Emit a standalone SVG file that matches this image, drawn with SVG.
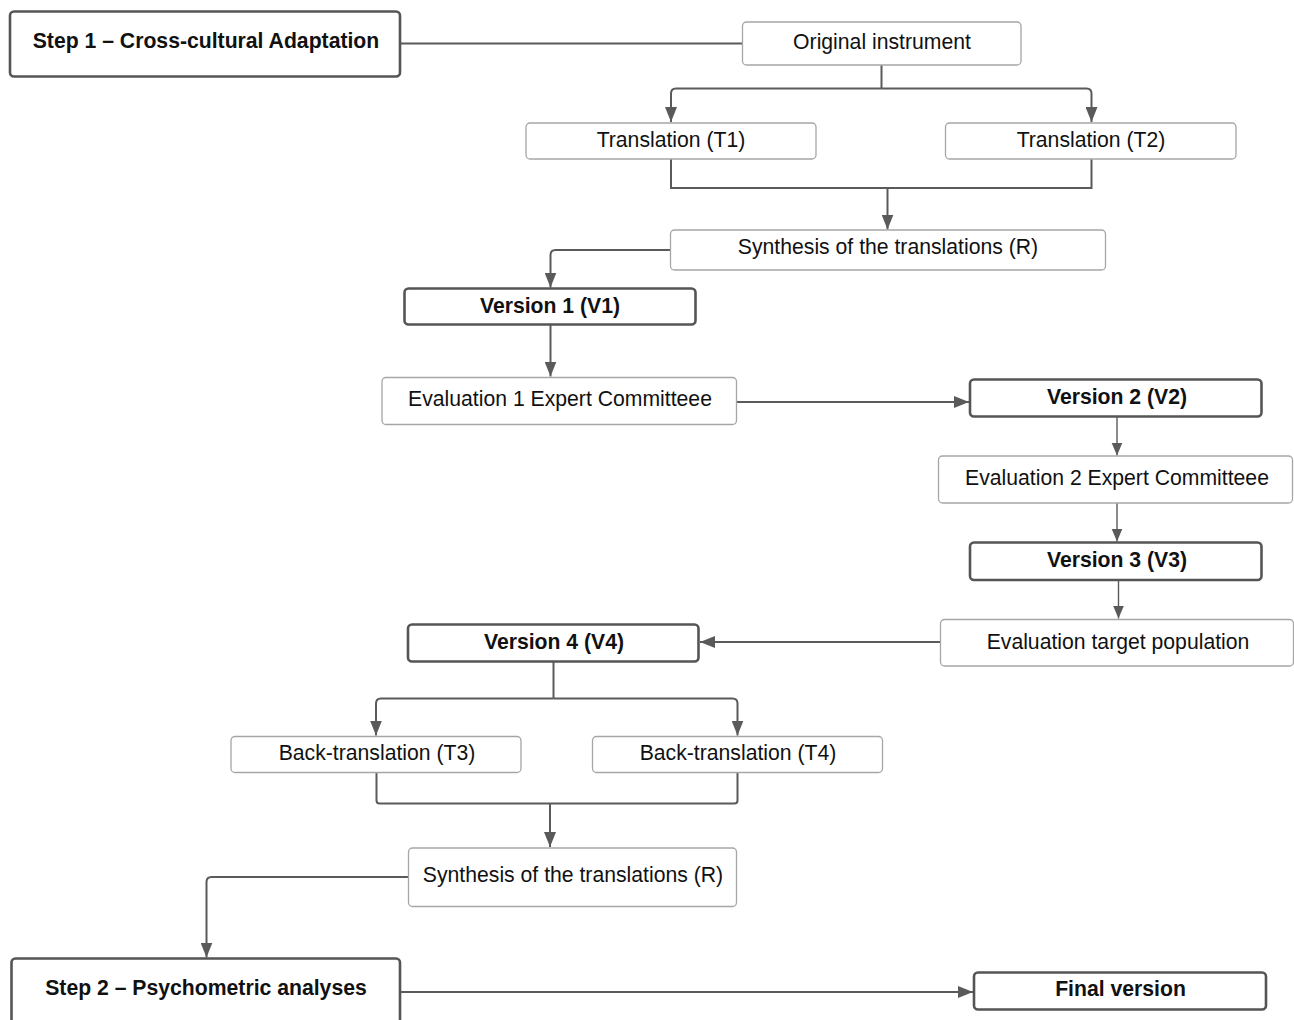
<svg xmlns="http://www.w3.org/2000/svg" width="1294" height="1020" viewBox="0 0 1294 1020">
<style>
.thin{fill:#fff;stroke:#a6a6a6;stroke-width:1.3}
.bold{fill:#fff;stroke:#555;stroke-width:2.6}
.t{font-family:"Liberation Sans",Arial,sans-serif;font-size:21.2px;fill:#111;text-anchor:middle}
.tb{font-family:"Liberation Sans",Arial,sans-serif;font-size:21.2px;font-weight:bold;fill:#111;text-anchor:middle}
.c{fill:none;stroke:#5a5a5a;stroke-width:2}
.cs{fill:none;stroke:#5a5a5a;stroke-width:1.4}
</style>
<defs>
<marker id="ah" markerUnits="userSpaceOnUse" markerWidth="16" markerHeight="12" viewBox="0 0 16 12" refX="15" refY="6" orient="auto">
<path d="M0,0 L15,6 L0,12 Z" fill="#5a5a5a"/>
</marker>
<marker id="ahs" markerUnits="userSpaceOnUse" markerWidth="14" markerHeight="12" viewBox="0 0 14 12" refX="13" refY="6" orient="auto">
<path d="M0,0.5 L13,6 L0,11.5 Z" fill="#5a5a5a"/>
</marker>
</defs>
<rect width="1294" height="1020" fill="#fff"/>
<g id="connectors">
<path class="c" d="M400,43.5 H742.5"/>
<path class="c" d="M881.5,65 V88.5"/>
<path class="c" d="M881.5,88.5 H676 Q671,88.5 671,93.5 V122" marker-end="url(#ah)"/>
<path class="c" d="M881.5,88.5 H1086.5 Q1091.5,88.5 1091.5,93.5 V122" marker-end="url(#ah)"/>
<path class="c" d="M671,159 V188 H1091.5 V159"/>
<path class="c" d="M887.5,188 V229.5" marker-end="url(#ah)"/>
<path class="c" d="M670.5,250 H555.5 Q550.5,250 550.5,255 V287.5" marker-end="url(#ah)"/>
<path class="c" d="M550.5,324.5 V376.5" marker-end="url(#ah)"/>
<path class="c" d="M736.5,402 H969" marker-end="url(#ah)"/>
<path class="cs" d="M1117,417 V455.5" marker-end="url(#ahs)"/>
<path class="cs" d="M1117,503 V541.5" marker-end="url(#ahs)"/>
<path class="cs" d="M1118.5,580 V618.5" marker-end="url(#ahs)"/>
<path class="c" d="M940.5,642 H700" marker-end="url(#ah)"/>
<path class="c" d="M553.5,662 V698.5"/>
<path class="c" d="M553.5,698.5 H381 Q376,698.5 376,703.5 V735.5" marker-end="url(#ah)"/>
<path class="c" d="M553.5,698.5 H732.5 Q737.5,698.5 737.5,703.5 V735.5" marker-end="url(#ah)"/>
<path class="c" d="M376.5,773 V800.5 Q376.5,803.5 379.5,803.5 H734.5 Q737.5,803.5 737.5,800.5 V773"/>
<path class="c" d="M550,803.5 V847" marker-end="url(#ah)"/>
<path class="c" d="M408.5,877 H211.5 Q206.5,877 206.5,882 V957.5" marker-end="url(#ah)"/>
<path class="c" d="M400,992 H973" marker-end="url(#ah)"/>
</g>
<g id="step1"><rect class="bold" x="10" y="11.5" width="390" height="65" rx="4"/><text class="tb" x="206" y="47.5">Step 1 – Cross-cultural Adaptation</text></g>
<g id="original"><rect class="thin" x="742.5" y="22" width="278.5" height="43" rx="4"/><text class="t" x="882" y="49">Original instrument</text></g>
<g id="t1"><rect class="thin" x="526" y="123" width="290" height="36" rx="4"/><text class="t" x="671" y="147">Translation (T1)</text></g>
<g id="t2"><rect class="thin" x="945.5" y="123" width="290.5" height="36" rx="4"/><text class="t" x="1091" y="147">Translation (T2)</text></g>
<g id="synth1"><rect class="thin" x="670.5" y="230" width="435" height="40" rx="4"/><text class="t" x="888" y="254">Synthesis of the translations (R)</text></g>
<g id="v1"><rect class="bold" x="404.5" y="288.5" width="291" height="36" rx="4"/><text class="tb" x="550" y="313">Version 1 (V1)</text></g>
<g id="eval1"><rect class="thin" x="382" y="377.5" width="354.5" height="47" rx="4"/><text class="t" x="560" y="406">Evaluation 1 Expert Committeee</text></g>
<g id="v2"><rect class="bold" x="970" y="379.5" width="291.5" height="37" rx="4"/><text class="tb" x="1117" y="404">Version 2 (V2)</text></g>
<g id="eval2"><rect class="thin" x="938.5" y="456" width="354" height="47" rx="4"/><text class="t" x="1117" y="485">Evaluation 2 Expert Committeee</text></g>
<g id="v3"><rect class="bold" x="970" y="542.5" width="291.5" height="37.5" rx="4"/><text class="tb" x="1117" y="567">Version 3 (V3)</text></g>
<g id="evaltarget"><rect class="thin" x="940.5" y="619.5" width="353" height="46.5" rx="4"/><text class="t" x="1118" y="648.5">Evaluation target population</text></g>
<g id="v4"><rect class="bold" x="408" y="624.5" width="290.5" height="37" rx="4"/><text class="tb" x="554" y="648.5">Version 4 (V4)</text></g>
<g id="t3"><rect class="thin" x="231" y="736.5" width="290" height="36" rx="4"/><text class="t" x="377" y="760">Back-translation (T3)</text></g>
<g id="t4"><rect class="thin" x="592.5" y="736.5" width="290" height="36" rx="4"/><text class="t" x="738" y="760">Back-translation (T4)</text></g>
<g id="synth2"><rect class="thin" x="408.5" y="848" width="328" height="58.5" rx="4"/><text class="t" x="573" y="882">Synthesis of the translations (R)</text></g>
<g id="step2"><rect class="bold" x="11.5" y="958.5" width="388.5" height="80" rx="4"/><text class="tb" x="206" y="995">Step 2 – Psychometric analyses</text></g>
<g id="final"><rect class="bold" x="974" y="972.5" width="292" height="37" rx="4"/><text class="tb" x="1120.5" y="996">Final version</text></g>
</svg>
